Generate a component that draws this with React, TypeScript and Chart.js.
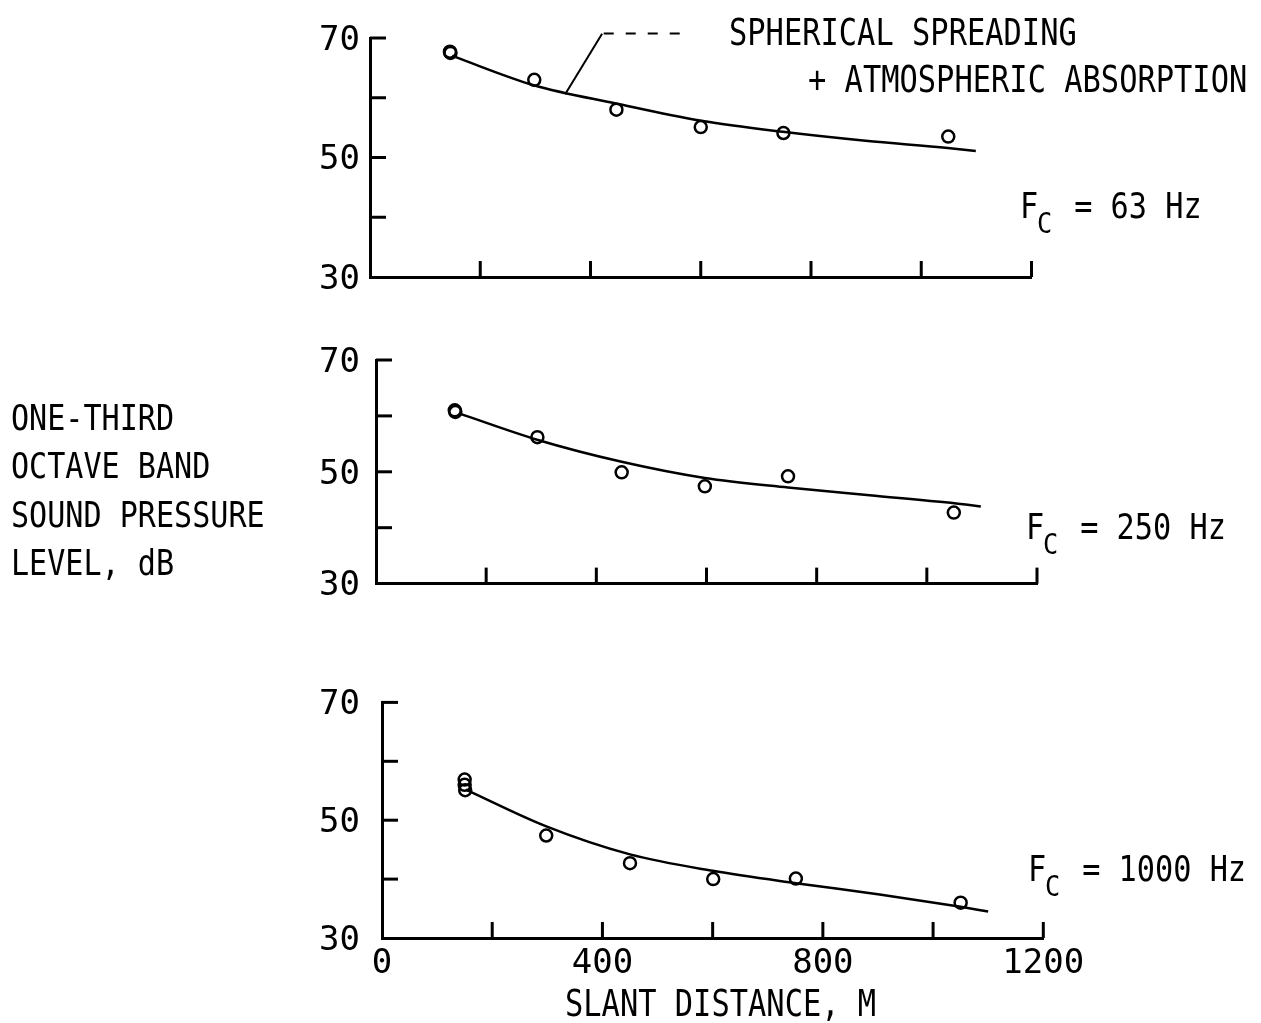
import React, { useEffect, useRef } from 'react';
import { Chart, registerables } from 'chart.js';

Chart.register(...registerables);

const FONT = "'DejaVu Sans Mono', monospace";

// Axis ticks
const yTickValues = [30, 40, 50, 60, 70];
const yTickLabels = ['30', '', '50', '', '70'];
const xTickValues = [0, 200, 400, 600, 800, 1000, 1200];
const xTickLabels = ['0', '', '400', '', '800', '', '1200'];

// Panel 1: Fc = 63 Hz
const meas63X = [145, 146, 298, 447, 600, 750, 1049];
const meas63Y = [67.7, 67.5, 63.0, 58.0, 55.1, 54.1, 53.5];
const curve63X = [149, 297, 448, 598, 749, 899, 1048, 1099];
const curve63Y = [67.0, 62.1, 59.0, 56.2, 54.3, 52.8, 51.6, 51.1];

// Leader line from the curve to the annotation
const leaderX = [354, 421];
const leaderY = [60.6, 70.7];
const leaderDashX = [424, 577];
const leaderDashY = [70.75, 70.75];

// Panel 2: Fc = 250 Hz
const meas250X = [143, 144, 293, 446, 597, 748, 1049];
const meas250Y = [61.0, 60.7, 56.2, 49.9, 47.4, 49.2, 42.7];
const curve250X = [152, 294, 446, 597, 748, 896, 1047, 1098];
const curve250Y = [60.4, 55.7, 51.8, 48.9, 47.2, 45.8, 44.4, 43.8];

// Panel 3: Fc = 1000 Hz
const meas1000X = [150, 150, 151, 298, 450, 601, 751, 1050];
const meas1000Y = [56.9, 56.0, 55.1, 47.4, 42.7, 40.0, 40.1, 36.0];
const curve1000X = [152, 297, 450, 600, 751, 903, 1050, 1100];
const curve1000Y = [55.2, 49.0, 44.2, 41.4, 39.3, 37.4, 35.3, 34.5];

const zip = (xs: number[], ys: number[]) => xs.map((x, i) => ({ x, y: ys[i] }));

const innerTicks = {
  id: 'innerTicks',
  afterDraw(chart: any) {
    const { ctx, chartArea: a, scales } = chart;
    ctx.save();
    ctx.strokeStyle = '#000';
    ctx.lineWidth = 3;
    scales.y.ticks.forEach((t: any) => {
      if (t.value === 30) return;
      const py = scales.y.getPixelForValue(t.value);
      ctx.beginPath();
      ctx.moveTo(a.left, py);
      ctx.lineTo(a.left + 16, py);
      ctx.stroke();
    });
    scales.x.ticks.forEach((t: any) => {
      if (t.value === 0) return;
      const px = scales.x.getPixelForValue(t.value);
      ctx.beginPath();
      ctx.moveTo(px, a.bottom);
      ctx.lineTo(px, a.bottom - 16);
      ctx.stroke();
    });
    ctx.restore();
  },
};

type PanelCfg = {
  top: number; h: number; xl: number; xr: number; yt: number; yb: number; xh: number;
  showX: boolean; meas: { x: number; y: number }[]; curve: { x: number; y: number }[]; leader?: boolean;
};

function Panel({ cfg }: { cfg: PanelCfg }) {
  const ref = useRef<HTMLCanvasElement>(null);
  useEffect(() => {
    const datasets: any[] = [
      {
        data: cfg.curve, showLine: true, pointRadius: 0, borderColor: '#000', borderWidth: 2.5,
        cubicInterpolationMode: 'monotone', fill: false,
      },
      {
        data: cfg.meas, showLine: false, pointRadius: 6, pointBorderWidth: 2.5,
        borderColor: '#000', backgroundColor: 'rgba(0,0,0,0)', pointStyle: 'circle',
      },
    ];
    if (cfg.leader) {
      datasets.push({
        data: zip(leaderX, leaderY), showLine: true, pointRadius: 0, borderColor: '#000', borderWidth: 2, clip: false,
      });
      datasets.push({
        data: zip(leaderDashX, leaderDashY), showLine: true, pointRadius: 0, borderColor: '#000', borderWidth: 2,
        borderDash: [10, 12], clip: false,
      });
    }
    const chart = new Chart(ref.current as HTMLCanvasElement, {
      type: 'scatter',
      data: { datasets },
      plugins: [innerTicks],
      options: {
        responsive: false,
        animation: false,
        devicePixelRatio: 1,
        events: [],
        layout: {
          padding: {
            left: 0,
            right: 1261 - cfg.xr,
            top: cfg.yt - cfg.top,
            bottom: cfg.top + cfg.h - cfg.yb - cfg.xh,
          },
        },
        plugins: { legend: { display: false }, tooltip: { enabled: false } },
        scales: {
          x: {
            type: 'linear', min: 0, max: 1200,
            grid: { display: false, drawTicks: false },
            border: { display: true, color: '#000', width: 3 },
            ticks: {
              display: cfg.showX, stepSize: 200, autoSkip: false, padding: 6, color: '#000',
              maxRotation: 0,
              font: { family: FONT, size: 34 },
              callback: (v: any) => {
                const i = xTickValues.indexOf(Number(v));
                return i >= 0 ? xTickLabels[i] : '';
              },
            },
            afterFit: (s: any) => { s.height = cfg.xh; },
          },
          y: {
            type: 'linear', min: 30, max: 70,
            grid: { display: false, drawTicks: false },
            border: { display: true, color: '#000', width: 3 },
            ticks: {
              stepSize: 10, autoSkip: false, padding: cfg.xl - 360, color: '#000',
              labelOffset: 3,
              font: { family: FONT, size: 34 },
              callback: (v: any) => {
                const i = yTickValues.indexOf(Number(v));
                return i >= 0 ? yTickLabels[i] : '';
              },
            },
            afterFit: (s: any) => { s.width = cfg.xl; },
          },
        },
      } as any,
    });
    return () => chart.destroy();
  }, []);
  return (
    <canvas
      ref={ref}
      width={1261}
      height={cfg.h}
      style={{ position: 'absolute', left: 0, top: cfg.top, width: 1261, height: cfg.h }}
    />
  );
}

function Txt({ x, capTop, text, size, k }: { x: number; capTop: number; text: string; size: number; k: number }) {
  return (
    <div
      style={{
        position: 'absolute', left: x, top: capTop - 0.117 * size, fontFamily: FONT, fontSize: size,
        lineHeight: `${size}px`, whiteSpace: 'pre', color: '#000', transform: `scaleX(${k})`,
        transformOrigin: 'left top',
      }}
    >
      {text}
    </div>
  );
}

function FcLabel({ x, capTop, value }: { x: number; capTop: number; value: string }) {
  return (
    <>
      <Txt x={x} capTop={capTop} text="F" size={36} k={0.84} />
      <Txt x={x + 17} capTop={capTop + 21} text="C" size={28} k={0.9} />
      <Txt x={x + 36} capTop={capTop} text={` = ${value} Hz`} size={36} k={0.84} />
    </>
  );
}

const panels: PanelCfg[] = [
  { top: 0, h: 310, xl: 370, xr: 1031.5, yt: 38, yb: 277, xh: 0, showX: false,
    meas: zip(meas63X, meas63Y), curve: zip(curve63X, curve63Y), leader: true },
  { top: 320, h: 300, xl: 376, xr: 1037, yt: 360, yb: 597, xh: 0, showX: false,
    meas: zip(meas250X, meas250Y), curve: zip(curve250X, curve250Y) },
  { top: 660, h: 363, xl: 382, xr: 1043.3, yt: 695, yb: 938, xh: 50, showX: true,
    meas: zip(meas1000X, meas1000Y), curve: zip(curve1000X, curve1000Y) },
];

export default function App() {
  return (
    <div style={{ position: 'absolute', left: 0, top: 0, width: 1261, height: 1023, background: '#fff', overflow: 'hidden' }}>
      {panels.map((p, i) => <Panel key={i} cfg={p} />)}
      <Txt x={729} capTop={17} text="SPHERICAL SPREADING" size={38} k={0.8} />
      <Txt x={808} capTop={64} text="+ ATMOSPHERIC ABSORPTION" size={38} k={0.8} />
      <FcLabel x={1020} capTop={192} value="63" />
      <FcLabel x={1026} capTop={513} value="250" />
      <FcLabel x={1028} capTop={855} value="1000" />
      <Txt x={11} capTop={405} text="ONE-THIRD" size={35} k={0.86} />
      <Txt x={11} capTop={453} text="OCTAVE BAND" size={35} k={0.86} />
      <Txt x={11} capTop={502} text="SOUND PRESSURE" size={35} k={0.86} />
      <Txt x={11} capTop={550} text="LEVEL, dB" size={35} k={0.86} />
      <Txt x={565} capTop={988} text="SLANT DISTANCE, M" size={38} k={0.8} />
    </div>
  );
}
